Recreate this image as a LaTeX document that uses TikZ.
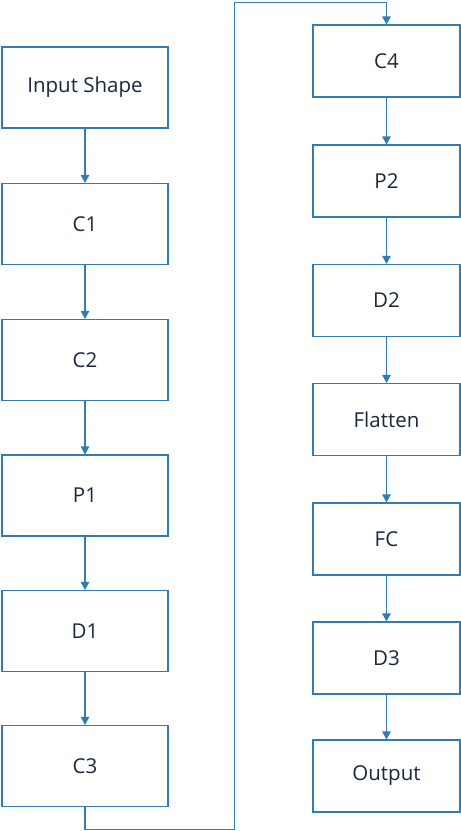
\documentclass[tikz,border=0pt]{standalone}
\usepackage{fontspec}
\setmainfont{Open Sans}
\usetikzlibrary{arrows.meta,calc}

\definecolor{linie}{RGB}{49,125,175}
\definecolor{schrift}{RGB}{25,40,60}

\tikzset{
  layer/.style={draw=linie,line width=1.1pt,fill=white,text=schrift,
    font=\fontsize{20.5}{24}\selectfont,inner sep=0pt},
  leftlayer/.style={layer,minimum width=166pt,minimum height=81pt},
  rightlayer/.style={layer,minimum width=147pt,minimum height=72pt},
  flow/.style={draw=linie,line width=1.1pt,-{Triangle[length=8pt,width=8.5pt]}}
}

\begin{document}
\begin{tikzpicture}[x=1pt,y=-1pt]
\useasboundingbox (0,0) rectangle (461,831);

% left column
\node[leftlayer] (in) at (85,87.5) {Input Shape};
\node[leftlayer] (c1) at (85,224) {C1};
\node[leftlayer] (c2) at (85,360) {C2};
\node[leftlayer] (p1) at (85,495.5) {P1};
\node[leftlayer] (d1) at (85,631) {D1};
\node[leftlayer] (c3) at (85,766) {C3};

% right column
\node[rightlayer] (c4) at (386.5,61) {C4};
\node[rightlayer] (p2) at (386.5,181) {P2};
\node[rightlayer] (d2) at (386.5,300.5) {D2};
\node[rightlayer] (fl) at (386.5,419.5) {Flatten};
\node[rightlayer] (fc) at (386.5,539) {FC};
\node[rightlayer] (d3) at (386.5,658) {D3};
\node[rightlayer] (out) at (386.5,776) {Output};

\foreach \a/\b in {in/c1,c1/c2,c2/p1,p1/d1,d1/c3,c4/p2,p2/d2,d2/fl,fl/fc,fc/d3,d3/out}
  \draw[flow] (\a) -- (\b);

% jump to second column
\coordinate (down) at ($(c3.south)+(0,22)$);
\coordinate (top) at ($(c4.north)+(0,-22)$);
\coordinate (side) at (234.5,0);
\draw[flow] (c3.south) -- (down) -- (down -| side) -- (top -| side) -- (top) -- (c4.north);

\end{tikzpicture}
\end{document}
